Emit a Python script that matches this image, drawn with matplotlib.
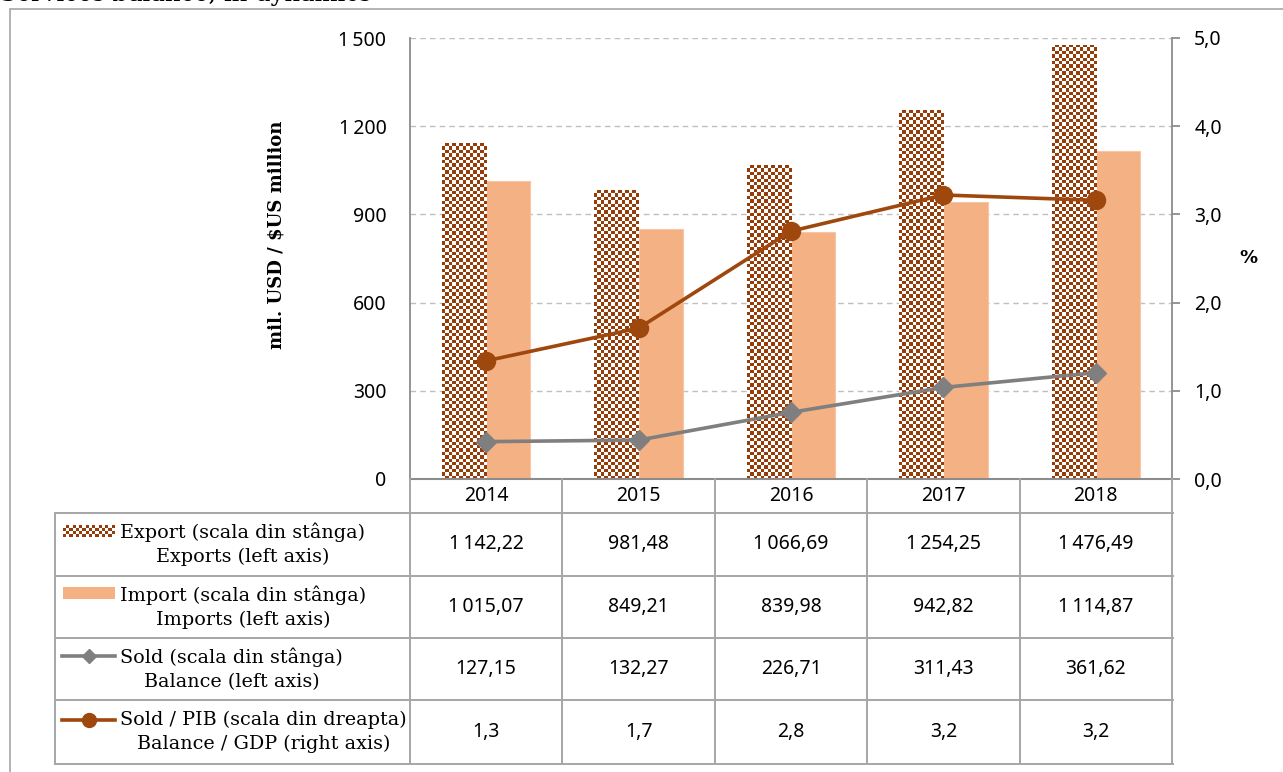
import numpy as np
import matplotlib
matplotlib.use('Agg')
import matplotlib.pyplot as plt
from matplotlib.patches import Rectangle
from matplotlib.lines import Line2D
from matplotlib.colors import ListedColormap
from matplotlib import transforms

# ---------------- data ----------------
years = ['2014', '2015', '2016', '2017', '2018']
exports = [1142.22, 981.48, 1066.69, 1254.25, 1476.49]
imports = [1015.07, 849.21, 839.98, 942.82, 1114.87]
balance = [127.15, 132.27, 226.71, 311.43, 361.62]
balance_gdp = [1.34, 1.71, 2.81, 3.22, 3.16]

left_ticks = [0, 300, 600, 900, 1200, 1500]
left_ticklabels = ['0', '300', '600', '900', '1\u2009200', '1\u2009500']
right_ticks = [0, 1, 2, 3, 4, 5]
right_ticklabels = ['0,0', '1,0', '2,0', '3,0', '4,0', '5,0']

row_labels = ['Export (scala din stânga)\nExports (left axis)',
              'Import (scala din stânga)\nImports (left axis)',
              'Sold (scala din stânga)\nBalance (left axis)',
              'Sold / PIB (scala din dreapta)\nBalance / GDP (right axis)']
title = 'Services balance, in dynamics'
ylabel_left = 'mil. USD / $US million'
ylabel_right = '%'


def fmt2(v):
    s = f"{v:,.2f}"
    return s.replace(',', '\u2009').replace('.', ',')


def fmt1(v):
    return f"{v:.1f}".replace('.', ',')


table_rows = [[fmt2(v) for v in exports],
              [fmt2(v) for v in imports],
              [fmt2(v) for v in balance],
              [fmt1(v) for v in balance_gdp]]

# ---------------- styling ----------------
DARK = '#963C08'
IMPORT_C = '#F4B183'
GRAY_L = '#7F7F7F'
BROWN_L = '#9E480E'
FRAME = '#A6A6A6'
SANS = ['Noto Sans', 'DejaVu Sans']
SERIF = ['DejaVu Serif']

W, H = 1283, 772
fig = plt.figure(figsize=(W / 100, H / 100), dpi=100)


def fx(px):
    return px / W


def fy(py):
    return 1 - py / H


ax = fig.add_axes([fx(410), fy(479), fx(1172) - fx(410), fy(38) - fy(479)])
x = np.arange(len(years))
bw = 0.29

exp_bars = ax.bar(x - bw / 2, exports, bw, color='white', edgecolor='none', zorder=2)
imp_bars = ax.bar(x + bw / 2, imports, bw, color=IMPORT_C, edgecolor='#F7C7A5',
                  linewidth=0.8, zorder=2)

checker_cmap = ListedColormap(['white', DARK])
cell = 3.4
for bar in exp_bars:
    x0, w, h = bar.get_x(), bar.get_width(), bar.get_height()
    pw = w * 762 / len(years)
    ph = h / 1500 * 441
    nc = max(1, int(round(pw / cell)))
    nr = max(1, int(round(ph / cell)))
    arr = np.add.outer(np.arange(nr), np.arange(nc)) % 2
    im = ax.imshow(arr, extent=(x0, x0 + w, 0, h), origin='upper', cmap=checker_cmap,
                   interpolation='nearest', aspect='auto', zorder=2.5, vmin=0, vmax=1)
    im.set_clip_path(bar)

ax.plot(x, balance, color=GRAY_L, lw=2.6, marker='D', ms=10, zorder=4)

ax.set_xlim(-0.5, len(years) - 0.5)
ax.set_ylim(0, 1500)
ax.set_aspect('auto')
ax.set_yticks(left_ticks)
ax.set_yticklabels(left_ticklabels, fontfamily=SANS, fontsize=14)
ax.set_xticks([])
ax.yaxis.grid(True, color='#BFBFBF', linestyle=(0, (4, 3)), lw=1.0)
ax.set_axisbelow(True)
ax.tick_params(axis='y', length=0, pad=17)
for s in ['top', 'right']:
    ax.spines[s].set_visible(False)
ax.spines['left'].set_color('#8C8C8C')
ax.spines['left'].set_linewidth(1.3)
ax.spines['bottom'].set_color('#8C8C8C')
ax.spines['bottom'].set_linewidth(1.5)

ax2 = ax.twinx()
ax2.plot(x, balance_gdp, color=BROWN_L, lw=2.6, marker='o', ms=13, zorder=5)
ax2.set_ylim(0, 5)
ax2.set_yticks(right_ticks)
ax2.set_yticklabels(right_ticklabels, fontfamily=SANS, fontsize=14)
ax2.tick_params(axis='y', direction='out', length=6, width=1.3, color='#8C8C8C', pad=10)
for s in ['top', 'left', 'bottom']:
    ax2.spines[s].set_visible(False)
ax2.spines['right'].set_color('#8C8C8C')
ax2.spines['right'].set_linewidth(1.3)

# ---------------- axis titles ----------------
fig.text(fx(277), fy(235), ylabel_left, rotation=90, ha='center', va='center',
         fontfamily=SERIF, fontweight='bold', fontsize=13)
fig.text(fx(1248), fy(258), ylabel_right, ha='center', va='center',
         fontfamily=['DejaVu Sans'], fontweight='bold', fontsize=13)
fig.text(0.0, fy(1.5), title, ha='left', va='baseline', fontfamily=SERIF, fontsize=17.5)

# ---------------- data table ----------------
bt = transforms.blended_transform_factory(ax.transData, fig.transFigure)
row_edges = [479, 513, 576, 638, 700, 764]
col_edges = [i - 0.5 for i in range(len(years) + 1)]
lkw = dict(color=FRAME, lw=1.4, solid_capstyle='projecting')

for r in row_edges[1:]:
    fig.add_artist(Line2D([fx(55), fx(1173)], [fy(r), fy(r)], transform=fig.transFigure, **lkw))
for c in col_edges:
    fig.add_artist(Line2D([c, c], [fy(479), fy(764)], transform=bt, **lkw))
fig.add_artist(Line2D([fx(55), fx(55)], [fy(513), fy(764)], transform=fig.transFigure, **lkw))

for i, yr in enumerate(years):
    fig.text(i, fy(496), yr, transform=bt, ha='center', va='center',
             fontfamily=SANS, fontsize=14)

for r, vals in enumerate(table_rows):
    yc = (row_edges[r + 1] + row_edges[r + 2]) / 2
    for i, v in enumerate(vals):
        fig.text(i, fy(yc), v, transform=bt, ha='center', va='center',
                 fontfamily=SANS, fontsize=14)
    fig.text(fx(120), fy(yc), row_labels[r], ha='left', va='center', multialignment='center',
             fontfamily=SERIF, fontsize=13.8, linespacing=1.42)

# legend symbols
sw = fig.add_axes([fx(63), fy(537), fx(115) - fx(63), (537 - 525) / H])
sw_arr = np.add.outer(np.arange(4), np.arange(16)) % 2
sw.imshow(sw_arr, cmap=checker_cmap, interpolation='nearest', aspect='auto', vmin=0, vmax=1)
sw.axis('off')

fig.add_artist(Rectangle((fx(63), fy(599)), fx(115) - fx(63), (599 - 587) / H,
                         transform=fig.transFigure, facecolor=IMPORT_C, edgecolor='none'))
fig.add_artist(Line2D([fx(62), fx(115)], [fy(656), fy(656)], transform=fig.transFigure,
                      color=GRAY_L, lw=2.6))
fig.add_artist(Line2D([fx(88.5)], [fy(656)], transform=fig.transFigure, color=GRAY_L,
                      marker='D', ms=7, lw=0))
fig.add_artist(Line2D([fx(62), fx(115)], [fy(720), fy(720)], transform=fig.transFigure,
                      color=BROWN_L, lw=2.6))
fig.add_artist(Line2D([fx(88.5)], [fy(720)], transform=fig.transFigure, color=BROWN_L,
                      marker='o', ms=10, lw=0))

# outer frame
fig.add_artist(Rectangle((fx(10), -0.1), 1.2, fy(9) + 0.1, transform=fig.transFigure,
                         fill=False, edgecolor=FRAME, lw=1.2))

fig.savefig('out.png', dpi=100)
